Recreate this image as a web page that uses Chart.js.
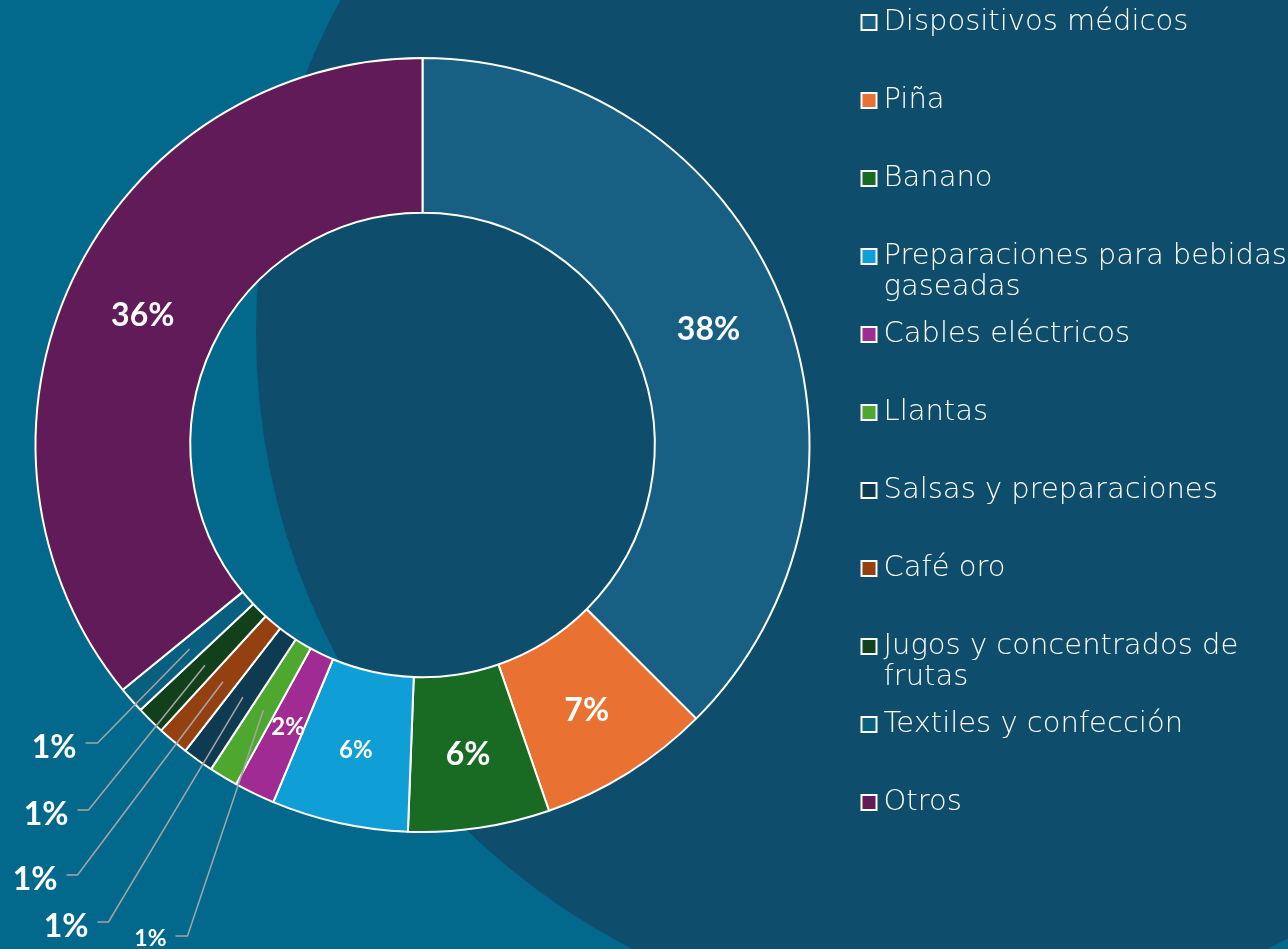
<!DOCTYPE html>
<html>
<head>
<meta charset="utf-8">
<script src="https://cdn.jsdelivr.net/npm/chart.js@4/dist/chart.umd.min.js"></script>
<style>
html,body{margin:0;padding:0;background:#03698C;overflow:hidden;width:1288px;height:949px;}
canvas{display:block;margin-left:-8px;}
</style>
</head>
<body>
<canvas id="c" width="1296" height="949"></canvas>
<script>
// ---- data ----
const categories = ['Dispositivos médicos','Piña','Banano','Preparaciones para bebidas gaseadas','Cables eléctricos','Llantas','Salsas y preparaciones','Café oro','Jugos y concentrados de frutas','Textiles y confección','Otros'];
const legendLines = [
  ['Dispositivos médicos',''],
  ['Piña',''],
  ['Banano',''],
  ['Preparaciones para bebidas','gaseadas'],
  ['Cables eléctricos',''],
  ['Llantas',''],
  ['Salsas y preparaciones',''],
  ['Café oro',''],
  ['Jugos y concentrados de','frutas'],
  ['Textiles y confección',''],
  ['Otros','']
];
const shares = [37.5, 7.2, 5.9, 5.7, 1.7, 1.2, 1.3, 1.3, 1.2, 1.1, 35.9];
const pctLabels = ['38%','7%','6%','6%','2%','1%','1%','1%','1%','1%','36%'];
const sliceColors = ['#176083','#E97132','#196B24','#0F9ED5','#A02B93','#4EA72E','#0E3A52','#954010','#11401A','#085F7F','#601B58'];

// ---- label styling (layout, not data) ----
const labelFontSize = [32,32,32,24,24,32,32,32,32,32,32];
// callouts: elbow offset from donut centre, horizontal end x offset
const callouts = {
  9: {ex:-325, ey:298, endX:-337, size:32, dy:5},
  8: {ex:-334, ey:365, endX:-345, size:32, dy:5},
  7: {ex:-345, ey:430, endX:-356, size:32, dy:5},
  6: {ex:-314, ey:477, endX:-325, size:32, dy:5},
  5: {ex:-235, ey:491, endX:-247, size:23, dy:3}
};

const bgPlugin = {
  id: 'bg',
  beforeDraw(chart) {
    const ctx = chart.ctx;
    ctx.save();
    ctx.fillStyle = '#03698C';
    ctx.fillRect(0, 0, chart.width, chart.height);
    ctx.fillStyle = '#0E4D6B';
    ctx.beginPath();
    ctx.arc(958, 332, 694, 0, Math.PI * 2);
    ctx.fill();
    ctx.restore();
  }
};

const labelPlugin = {
  id: 'pctLabels',
  afterDatasetsDraw(chart) {
    const ctx = chart.ctx;
    const meta = chart.getDatasetMeta(0);
    const cx = meta.data[0].x, cy = meta.data[0].y;
    ctx.save();
    meta.data.forEach((arc, i) => {
      const p = arc.tooltipPosition();
      const c = callouts[i];
      ctx.fillStyle = '#FFFFFF';
      ctx.textBaseline = 'middle';
      if (c) {
        ctx.strokeStyle = '#A6A6A6';
        ctx.lineWidth = 1.5;
        ctx.beginPath();
        ctx.moveTo(p.x, p.y);
        ctx.lineTo(cx + c.ex, cy + c.ey);
        ctx.lineTo(cx + c.endX, cy + c.ey);
        ctx.stroke();
        ctx.font = 'bold ' + c.size + 'px Lato, "Open Sans", sans-serif';
        ctx.textAlign = 'right';
        ctx.fillText(pctLabels[i], cx + c.endX - 9, cy + c.ey + c.dy);
      } else {
        ctx.font = 'bold ' + labelFontSize[i] + 'px Lato, "Open Sans", sans-serif';
        ctx.textAlign = 'center';
        ctx.fillText(pctLabels[i], p.x, p.y + 3);
      }
    });
    ctx.restore();
  }
};

new Chart(document.getElementById('c'), {
  type: 'doughnut',
  data: {
    labels: categories,
    datasets: [{
      data: shares,
      backgroundColor: sliceColors,
      borderColor: '#FFFFFF',
      borderWidth: 2,
      radius: 387,
      cutout: '60%'
    }]
  },
  options: {
    responsive: false,
    animation: false,
    events: [],
    devicePixelRatio: 1,
    layout: { padding: { left: 0, top: -8, right: 0, bottom: 59 } },
    plugins: {
      tooltip: { enabled: false },
      legend: {
        position: 'right',
        align: 'start',
        maxWidth: 435,
        labels: {
          color: '#FFFFFF',
          usePointStyle: true,
          boxWidth: 0.01,
          boxHeight: 15,
          padding: 16,
          font: { family: '"DejaVu Sans", sans-serif', size: 29, weight: 300, lineHeight: 31/29 },
          generateLabels(chart) {
            return legendLines.map((lines, i) => ({
              text: lines,
              fillStyle: sliceColors[i],
              strokeStyle: '#FFFFFF',
              lineWidth: 2,
              pointStyle: 'rect',
              fontColor: '#FFFFFF',
              hidden: false,
              index: i
            }));
          }
        }
      }
    }
  },
  plugins: [bgPlugin, labelPlugin]
});
</script>
</body>
</html>
